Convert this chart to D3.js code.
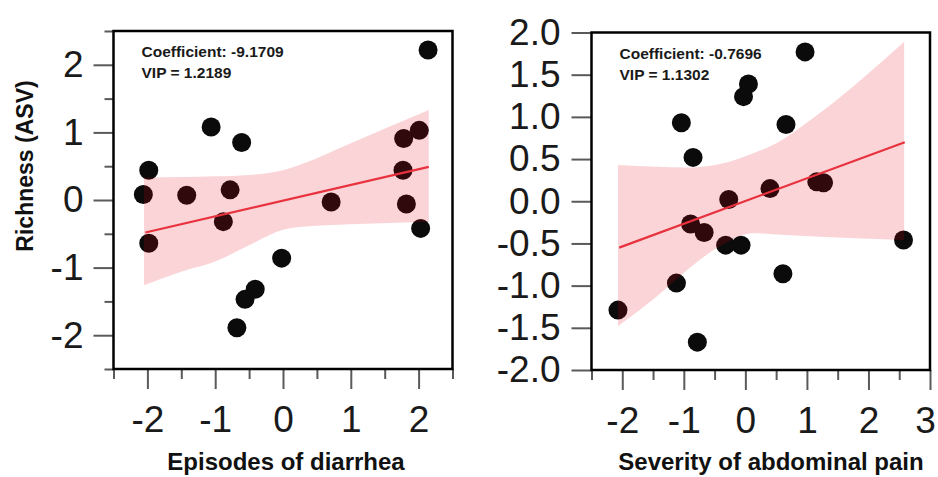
<!DOCTYPE html>
<html>
<head>
<meta charset="utf-8">
<script src="https://cdn.jsdelivr.net/npm/d3@7"></script>
<style>
body { margin: 0; background: #fff; }
text { font-family: "Liberation Sans", Arial, Helvetica, sans-serif; }
</style>
</head>
<body>
<svg id="chart" width="938" height="477"></svg>
<script>
// left panel: episodes of diarrhea
var diarrheaX = [2.14, -1.06, -0.61, -1.98, -2.06, -1.42, -0.78, -0.88, 0.71, 1.78, 2.01, 1.77, 1.82, 2.03, -1.98, -0.02, -0.41, -0.56, -0.68];
var diarrheaY = [2.22, 1.08, 0.85, 0.44, 0.08, 0.07, 0.15, -0.32, -0.03, 0.91, 1.03, 0.44, -0.06, -0.42, -0.64, -0.86, -1.32, -1.47, -1.89];
var diarrheaFitX = [-2.03, 2.15];
var diarrheaFitY = [-0.48, 0.49];
var diarrheaBandX = [-2.05, -1.5, -1.0, -0.5, 0.0, 0.25, 1.0, 2.15];
var diarrheaBandHi = [0.33, 0.34, 0.35, 0.37, 0.44, 0.52, 0.84, 1.33];
var diarrheaBandLo = [-1.26, -1.06, -0.91, -0.67, -0.44, -0.40, -0.36, -0.32];
var diarrheaXTicks = [-2, -1, 0, 1, 2];
var diarrheaXLabels = ["-2", "-1", "0", "1", "2"];
var diarrheaYTicks = [-2, -1, 0, 1, 2];
var diarrheaYLabels = ["-2", "-1", "0", "1", "2"];
var diarrheaMinor = [-2.5, -1.5, -0.5, 0.5, 1.5, 2.5];

// right panel: severity of abdominal pain
var painX = [0.97, 0.05, -0.03, -1.04, 0.66, -0.85, 0.40, 1.16, 1.27, -0.27, -0.89, -0.67, -0.32, -0.07, 2.57, 0.61, -1.12, -2.07, -0.78];
var painY = [1.77, 1.39, 1.24, 0.93, 0.91, 0.52, 0.15, 0.23, 0.22, 0.02, -0.27, -0.37, -0.52, -0.52, -0.46, -0.86, -0.97, -1.29, -1.67];
var painFitX = [-2.05, 2.59];
var painFitY = [-0.55, 0.70];
var painBandX = [-2.07, -1.44, -0.97, -0.43, 0.13, 0.43, 1.2, 2.58];
var painBandHi = [0.43, 0.41, 0.40, 0.44, 0.57, 0.66, 1.04, 1.89];
var painBandLo = [-1.48, -1.13, -0.83, -0.54, -0.38, -0.39, -0.42, -0.46];
var painXTicks = [-2, -1, 0, 1, 2, 3];
var painXLabels = ["-2", "-1", "0", "1", "2", "3"];
var painXMinor = [-2.5, -1.5, -0.5, 0.5, 1.5, 2.5];
var painYTicks = [-2, -1.5, -1, -0.5, 0, 0.5, 1, 1.5, 2];
var painYLabels = ["-2.0", "-1.5", "-1.0", "-0.5", "0.0", "0.5", "1.0", "1.5", "2.0"];

var svg = d3.select("#chart");

function drawPanel(p) {
    var x = d3.scaleLinear().domain(p.xDomain).range([p.left, p.right]);
    var y = d3.scaleLinear().domain(p.yDomain).range([p.bottom, p.top]);
    var g = svg.append("g");

    // points first, the band is laid over them
    g.selectAll("circle")
    .data(p.px)
    .enter()
    .append("circle")
    .attr("cx", function(d){ return x(d); })
    .attr("cy", function(d, i){ return y(p.py[i]); })
    .attr("r", 9.5)
    .style("fill", "#0b0b0b");

    var area = d3.area()
    .curve(d3.curveMonotoneX)
    .x(function(d){ return x(d); })
    .y0(function(d, i){ return y(p.bandLo[i]); })
    .y1(function(d, i){ return y(p.bandHi[i]); });
    g.append("path")
    .datum(p.bandX)
    .attr("d", area)
    .style("fill", "rgb(232,0,24)")
    .style("opacity", 0.17);

    var line = d3.line()
    .x(function(d){ return x(d); })
    .y(function(d, i){ return y(p.fitY[i]); });
    g.append("path")
    .datum(p.fitX)
    .attr("d", line)
    .style("fill", "none")
    .style("stroke", "#e8323e")
    .style("stroke-width", 2.2);

    // minor ticks
    if (p.yMinor) {
        g.append("g")
        .attr("transform", "translate(" + p.left + ",0)")
        .call(d3.axisLeft(y).tickValues(p.yMinor).tickSize(9).tickFormat(""));
    }
    if (p.xMinor) {
        g.append("g")
        .attr("transform", "translate(0," + p.bottom + ")")
        .call(d3.axisBottom(x).tickValues(p.xMinor).tickSize(10).tickFormat(""));
    }
    g.append("g")
    .attr("class", "yaxis")
    .attr("transform", "translate(" + p.left + ",0)")
    .call(d3.axisLeft(y).tickValues(p.yTicks).tickSize(20).tickPadding(p.yPad)
        .tickFormat(function(d, i){ return p.yLabels[i]; }));
    var xa = g.append("g")
    .attr("class", "xaxis")
    .attr("transform", "translate(0," + p.bottom + ")")
    .call(d3.axisBottom(x).tickValues(p.xTicks).tickSize(20).tickPadding(17)
        .tickFormat(function(d, i){ return p.xLabels[i]; }));
    // keep the last label inside the page
    xa.selectAll(".tick text").filter(function(d){ return x(d) > 925; }).attr("dx", -5);

    g.selectAll(".domain").remove();
    g.selectAll(".tick line").style("stroke", "#5a5a5a").style("stroke-width", 2);
    g.selectAll(".tick text")
    .style("font-size", "37px")
    .style("font-family", "'Liberation Sans', Arial, sans-serif")
    .style("fill", "#1a1a1a");

    g.append("rect")
    .attr("x", p.left)
    .attr("y", p.top)
    .attr("width", p.right - p.left)
    .attr("height", p.bottom - p.top)
    .style("fill", "none")
    .style("stroke", "#000")
    .style("stroke-width", 2.5);

    g.append("text")
    .attr("x", p.left + 28)
    .attr("y", p.top + 26)
    .style("font-size", "15.5px")
    .style("font-weight", "bold")
    .style("fill", "#1a1a1a")
    .text(p.coef);
    g.append("text")
    .attr("x", p.left + 28)
    .attr("y", p.top + 47)
    .style("font-size", "15.5px")
    .style("font-weight", "bold")
    .style("fill", "#1a1a1a")
    .text(p.vip);

    g.append("text")
    .attr("x", p.titleX)
    .attr("y", p.titleY)
    .attr("text-anchor", "middle")
    .style("font-size", p.titleSize)
    .style("font-weight", "bold")
    .style("fill", "#111")
    .text(p.title);
}

drawPanel({
    px: diarrheaX, py: diarrheaY,
    fitX: diarrheaFitX, fitY: diarrheaFitY,
    bandX: diarrheaBandX, bandHi: diarrheaBandHi, bandLo: diarrheaBandLo,
    xDomain: [-2.5, 2.5], yDomain: [-2.5, 2.5],
    left: 113.5, right: 452.5, top: 31, bottom: 369,
    xTicks: diarrheaXTicks, xLabels: diarrheaXLabels, xMinor: diarrheaMinor,
    yTicks: diarrheaYTicks, yLabels: diarrheaYLabels, yMinor: diarrheaMinor, yPad: 10,
    coef: "Coefficient: -9.1709", vip: "VIP = 1.2189",
    title: "Episodes of diarrhea", titleX: 286, titleY: 470, titleSize: "24px"
});

drawPanel({
    px: painX, py: painY,
    fitX: painFitX, fitY: painFitY,
    bandX: painBandX, bandHi: painBandHi, bandLo: painBandLo,
    xDomain: [-2.5, 3], yDomain: [-2, 2],
    left: 591.5, right: 930, top: 32.5, bottom: 370,
    xTicks: painXTicks, xLabels: painXLabels, xMinor: painXMinor,
    yTicks: painYTicks, yLabels: painYLabels, yMinor: null, yPad: 11,
    coef: "Coefficient: -0.7696", vip: "VIP = 1.1302",
    title: "Severity of abdominal pain", titleX: 771, titleY: 470, titleSize: "24px"
});

svg.append("text")
.attr("transform", "translate(33,166) rotate(-90)")
.attr("text-anchor", "middle")
.style("font-size", "23px")
.style("font-weight", "bold")
.style("fill", "#111")
.text("Richness (ASV)");
</script>
</body>
</html>
